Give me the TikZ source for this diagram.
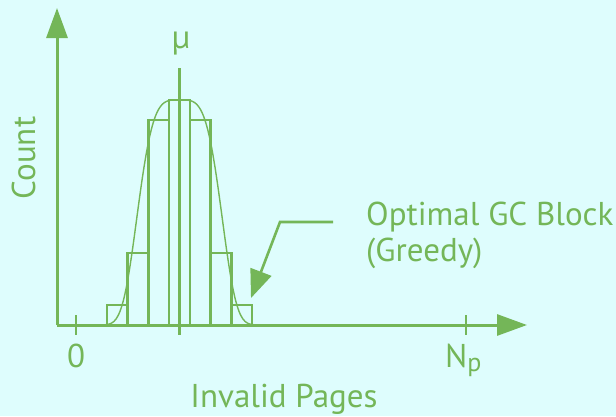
\documentclass[tikz,border=0pt]{standalone}
\usepackage{fontspec}
\setmainfont{PT Sans}
\definecolor{gcgreen}{RGB}{116,182,88}
\definecolor{gcbg}{RGB}{222,253,253}
\usetikzlibrary{arrows.meta}
\newcommand{\gcsize}{\fontsize{33}{36}\selectfont}

\begin{document}
\begin{tikzpicture}[x=1pt, y=-1pt,
    axis/.style={gcgreen, line width=3pt, -{Triangle[length=30pt, width=21pt]}},
    tick/.style={gcgreen, line width=2.6pt},
    bar/.style={gcgreen, line width=2.6pt},
    lbl/.style={font=\gcsize, text=gcgreen, inner sep=0pt}]
  % Background
  \fill[gcbg] (0,0) rectangle (616,416);
  \useasboundingbox (0,0) rectangle (616,416);

  % Axes
  \coordinate (origin) at (57,325);
  \coordinate (ytip) at (57,8);
  \coordinate (xtip) at (527,325);
  \draw[axis] (origin) -- (ytip);
  \draw[axis] (origin) -- (xtip);

  % Ticks
  \draw[tick] (76,315) -- (76,335);
  \draw[tick] (466,315) -- (466,335);
  \draw[tick] (179.5,68) -- (179.5,335);

  % Histogram bars
  \foreach \l/\r/\t in {107/127.7/305, 127.7/148.4/253, 148.4/169.1/120,
                        169.1/189.9/100, 189.9/210.6/120, 210.6/231.3/253,
                        231.3/252/305}
    \draw[bar] (\l,325) -- (\l,\t) -- (\r,\t) -- (\r,325);

  % Distribution curve
  \draw[gcgreen, line width=1.4pt, smooth, samples=80, domain=100:259]
    plot (\x, {325-225*exp(-((\x-179.5)*(\x-179.5)/2116)*((\x-179.5)*(\x-179.5)/2116))});

  % Labels
  \node[lbl, anchor=base] (mu) at (181,48) {µ};
  \node[lbl, anchor=base, rotate=90] (count) at (35,158) {Count};
  \node[lbl, anchor=base] (zero) at (76,367) {0};
  \node[lbl, anchor=base west] (np) at (445,367) {N\raisebox{-4pt}{\fontsize{26}{26}\selectfont p}};
  \node[lbl, anchor=base] (xlabel) at (284,407) {Invalid Pages};
  \node[lbl, anchor=base west, align=left] (optimal) at (366,261) {Optimal GC Block\\(Greedy)};

  % Pointer to the greedy block
  \coordinate (start) at (333,222);
  \coordinate (bend) at (280,222);
  \coordinate (greedy) at (251,298);
  \draw[gcgreen, line width=2.6pt, -{Triangle[length=28pt, width=22pt]}]
    (start) -- (bend) -- (greedy);
\end{tikzpicture}
\end{document}
